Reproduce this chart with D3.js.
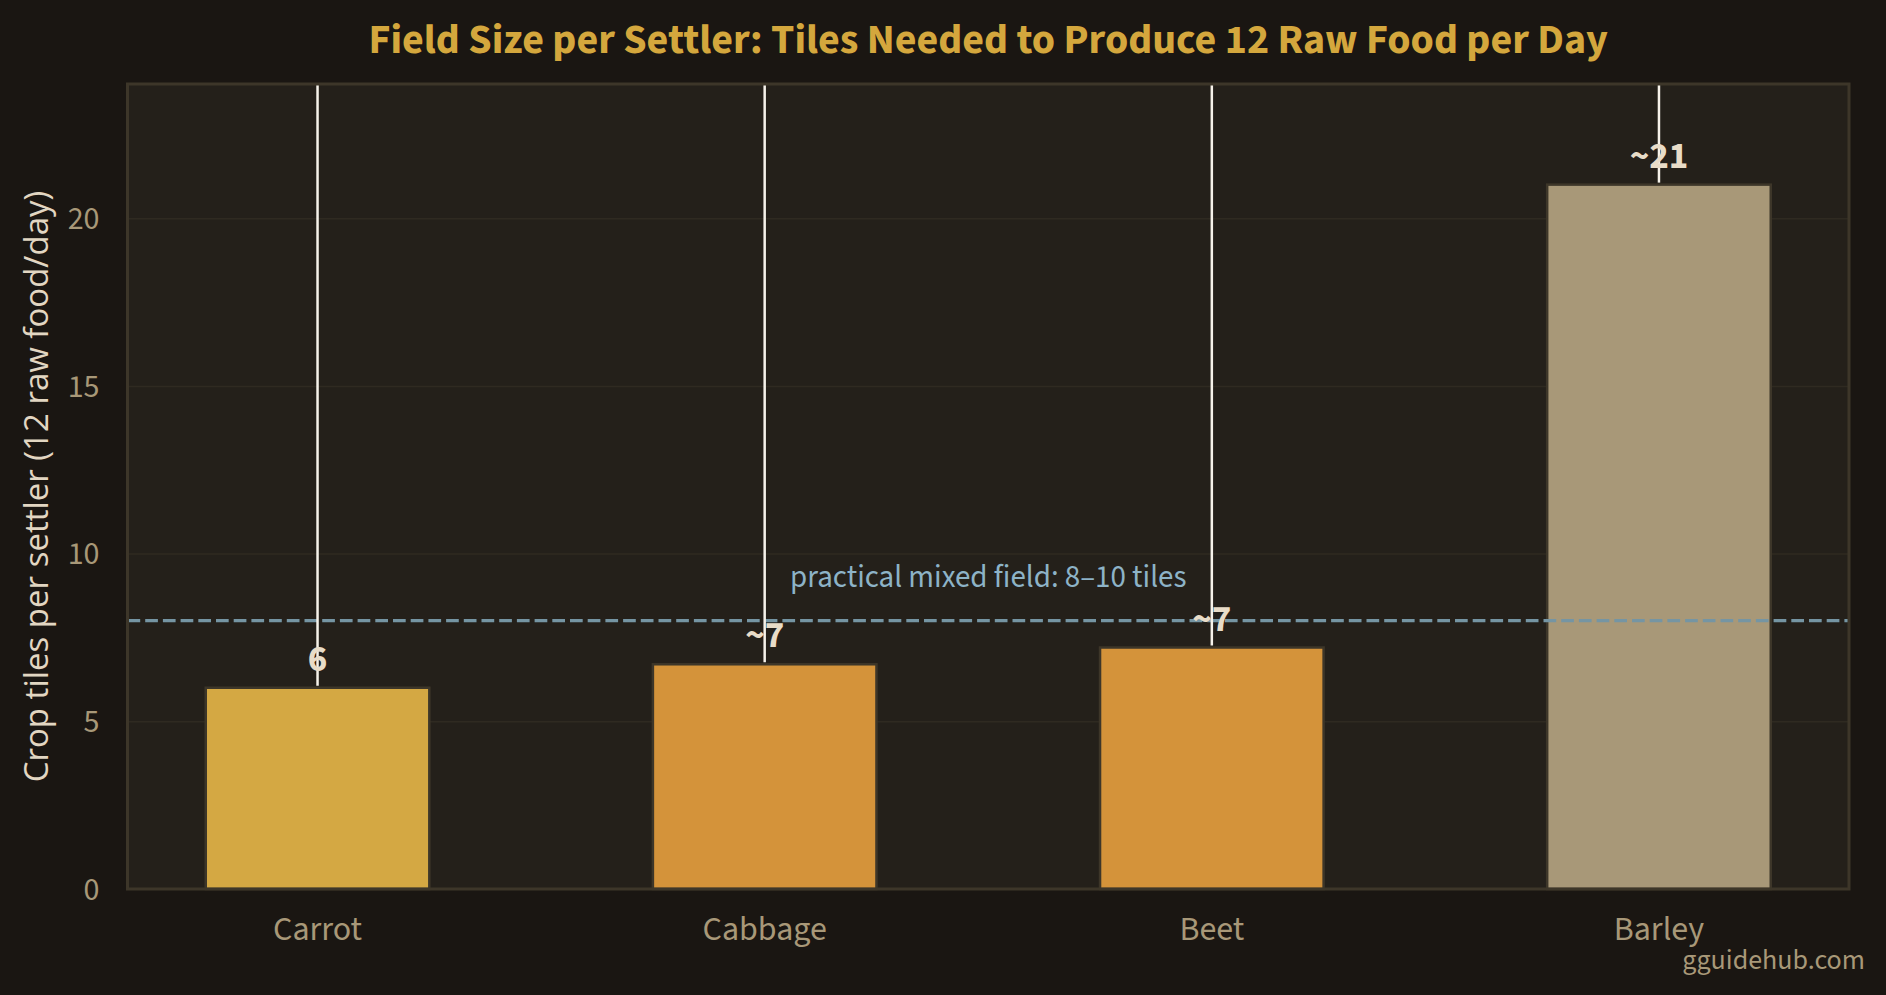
<!DOCTYPE html>
<html>
<head>
<meta charset="utf-8">
<script src="https://cdn.jsdelivr.net/npm/d3@7"></script>
<style>
  html, body { margin: 0; padding: 0; background: #1a1612; }
  svg { display: block; }
  text { font-family: "Source Sans 3", "Source Sans Pro", Lato, sans-serif; }
</style>
</head>
<body>
<div id="chart"></div>
<script>
// data
var crops = ["Carrot", "Cabbage", "Beet", "Barley"]
var tiles = [6, 6.7, 7.2, 21]
var valueLabels = ["6", "~7", "~7", "~21"]
var barColors = ["#d4a843", "#d4933a", "#d4933a", "#a89878"]
var yTicks = [0, 5, 10, 15, 20]
var practicalLine = 8
var practicalText = "practical mixed field: 8\u201310 tiles"

var colors = {}
colors.bg = "#1a1612"
colors.plot = "#24201a"
colors.frame = "#3d3629"
colors.grid = "#2f2a21"
colors.tick = "#a89878"
colors.title = "#d4a73d"

var fontStack = "\"Source Sans 3\", \"Source Sans Pro\", Lato, sans-serif"

document.addEventListener("DOMContentLoaded", function() {
  draw()
});

function draw(){
  var width = 1886, height = 995
  var margin = {left: 127.5, right: 37, top: 84, bottom: 106}

  var svg = d3.select("#chart").append("svg")
    .attr("width", width)
    .attr("height", height)

  svg.append("rect").attr("width", width).attr("height", height).attr("fill", colors.bg)

  var x = d3.scaleBand()
    .domain(crops)
    .range([margin.left, width - margin.right])
    .paddingInner(0.5)
    .paddingOuter(0.175)

  var y = d3.scaleLinear()
    .domain([0, 24])
    .range([height - margin.bottom, margin.top])

  // plot background
  svg.append("rect")
    .attr("x", margin.left).attr("y", margin.top)
    .attr("width", width - margin.left - margin.right)
    .attr("height", height - margin.top - margin.bottom)
    .attr("fill", colors.plot)

  // grid
  svg.append("g")
    .attr("transform", "translate(" + margin.left + ",0)")
    .call(d3.axisLeft(y).tickValues(yTicks.slice(1)).tickSize(-(width - margin.left - margin.right)).tickFormat(""))
    .call(g => g.select(".domain").remove())
    .call(g => g.selectAll("line").attr("stroke", colors.grid).attr("stroke-width", 1.5))

  var data = crops.map((c, i) => ({crop: c, value: tiles[i], label: valueLabels[i], color: barColors[i]}))

  // bars
  svg.selectAll("rect.bar")
    .data(data)
    .enter()
    .append("rect")
    .attr("class", "bar")
    .attr("x", d => x(d.crop))
    .attr("y", d => y(d.value))
    .attr("width", x.bandwidth())
    .attr("height", d => y(0) - y(d.value))
    .attr("fill", d => d.color)
    .attr("stroke", colors.frame)
    .attr("stroke-width", 2.5)

  // dashed reference line
  svg.append("line")
    .attr("x1", margin.left).attr("x2", width - margin.right)
    .attr("y1", y(practicalLine)).attr("y2", y(practicalLine))
    .attr("stroke", "#7595a3")
    .attr("stroke-width", 3.2)
    .attr("stroke-dasharray", "12.7,5")

  svg.append("text")
    .attr("x", (margin.left + width - margin.right) / 2)
    .attr("y", y(9))
    .attr("text-anchor", "middle")
    .attr("fill", "#8db3c7")
    .style("font-size", "31px")
    .text(practicalText)

  // white whisker lines from bar tops
  svg.selectAll("line.whisker")
    .data(data)
    .enter()
    .append("line")
    .attr("class", "whisker")
    .attr("x1", d => x(d.crop) + x.bandwidth() / 2)
    .attr("x2", d => x(d.crop) + x.bandwidth() / 2)
    .attr("y1", d => y(d.value) - 2)
    .attr("y2", y(24))
    .attr("stroke", "#f6f2ea")
    .attr("stroke-width", 2.5)

  // value labels
  svg.selectAll("text.val")
    .data(data)
    .enter()
    .append("text")
    .attr("class", "val")
    .attr("x", d => x(d.crop) + x.bandwidth() / 2)
    .attr("y", d => y(d.value) - 17)
    .attr("text-anchor", "middle")
    .attr("fill", "#e8dcc8")
    .style("font-size", "37px")
    .style("font-weight", "bold")
    .text(d => d.label)

  // frame
  svg.append("rect")
    .attr("x", margin.left).attr("y", margin.top)
    .attr("width", width - margin.left - margin.right)
    .attr("height", height - margin.top - margin.bottom)
    .attr("fill", "none")
    .attr("stroke", colors.frame)
    .attr("stroke-width", 3)

  // y axis labels
  var yAxis = svg.append("g")
    .attr("transform", "translate(" + margin.left + ",0)")
    .call(d3.axisLeft(y).tickValues(yTicks).tickSize(0).tickPadding(28))
  yAxis.select(".domain").remove()
  yAxis.selectAll("text")
    .attr("fill", colors.tick)
    .style("font-size", "32px")
    .style("font-family", fontStack)

  // x axis labels
  var xAxis = svg.append("g")
    .attr("transform", "translate(0," + y(0) + ")")
    .call(d3.axisBottom(x).tickSize(0).tickPadding(27))
  xAxis.select(".domain").remove()
  xAxis.selectAll("text")
    .attr("fill", colors.tick)
    .style("font-size", "34px")
    .style("font-family", fontStack)

  // y title
  svg.append("text")
    .attr("transform", "translate(48," + (margin.top + height - margin.bottom) / 2 + ") rotate(-90)")
    .attr("text-anchor", "middle")
    .attr("fill", "#e2d6c2")
    .style("font-family", "\"Open Sans\", sans-serif")
    .style("font-size", "33px")
    .text("Crop tiles per settler (12 raw food/day)")

  // title
  svg.append("text")
    .attr("x", (margin.left + width - margin.right) / 2)
    .attr("y", 53)
    .attr("text-anchor", "middle")
    .attr("fill", colors.title)
    .style("font-size", "42px")
    .style("font-weight", "bold")
    .text("Field Size per Settler: Tiles Needed to Produce 12 Raw Food per Day")

  // watermark
  svg.append("text")
    .attr("x", 1865)
    .attr("y", 969)
    .attr("text-anchor", "end")
    .attr("fill", "#a89878")
    .style("font-size", "28px")
    .text("gguidehub.com")
}
</script>
</body>
</html>
